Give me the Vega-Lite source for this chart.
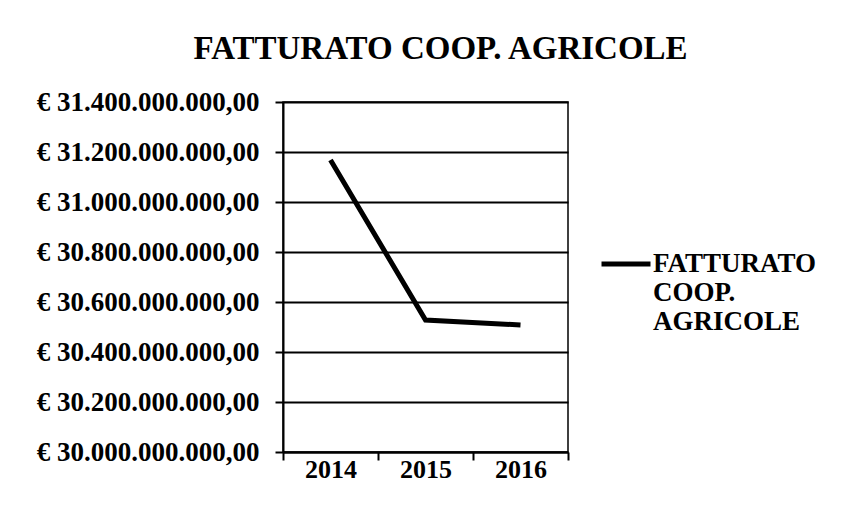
{
  "$schema": "https://vega.github.io/schema/vega-lite/v6.json",
  "width": 285,
  "height": 350,
  "autosize": "none",
  "padding": {"left": 283, "top": 102, "right": 278, "bottom": 57},
  "background": "white",
  "title": {
    "text": "FATTURATO COOP. AGRICOLE",
    "font": "Liberation Serif",
    "fontSize": 33,
    "fontWeight": "bold",
    "color": "black",
    "anchor": "middle",
    "dx": 15,
    "offset": 22
  },
  "data": {
    "values": [
      {"anno": "2014", "serie": "FATTURATO COOP. AGRICOLE", "fatturato": 31168000000},
      {"anno": "2015", "serie": "FATTURATO COOP. AGRICOLE", "fatturato": 30528000000},
      {"anno": "2016", "serie": "FATTURATO COOP. AGRICOLE", "fatturato": 30508000000}
    ]
  },
  "mark": {"type": "line", "strokeWidth": 5, "strokeCap": "butt", "strokeJoin": "miter"},
  "encoding": {
    "x": {
      "field": "anno",
      "type": "ordinal",
      "scale": {"type": "band", "paddingInner": 0, "paddingOuter": 0},
      "axis": {
        "title": null,
        "labelAngle": 0,
        "tickBand": "extent",
        "tickSize": 8,
        "labelPadding": -4,
        "grid": false
      }
    },
    "y": {
      "field": "fatturato",
      "type": "quantitative",
      "scale": {"domain": [30000000000, 31400000000], "zero": false, "nice": false},
      "axis": {
        "title": null,
        "values": [30000000000, 30200000000, 30400000000, 30600000000, 30800000000, 31000000000, 31200000000, 31400000000],
        "format": "$,.2f",
        "tickSize": 8,
        "labelPadding": 16,
        "labelFontSize": 27,
        "labelLimit": 400,
        "grid": true
      }
    },
    "color": {
      "field": "serie",
      "type": "nominal",
      "scale": {"range": ["black"]},
      "legend": {
        "title": null,
        "orient": "none",
        "legendX": 316,
        "legendY": 135,
        "symbolType": "stroke",
        "symbolSize": 2400,
        "symbolStrokeWidth": 5,
        "labelExpr": "split(datum.label, ' ')",
        "labelFont": "Liberation Serif",
        "labelFontSize": 27,
        "labelFontWeight": "bold",
        "labelColor": "black",
        "labelLimit": 400,
        "labelOffset": 0
      }
    }
  },
  "config": {
    "locale": {
      "number": {
        "decimal": ",",
        "thousands": ".",
        "grouping": [3],
        "currency": ["€ ", ""]
      }
    },
    "view": {"stroke": "black", "strokeWidth": 1.5},
    "axis": {
      "labelFont": "Liberation Serif",
      "labelFontSize": 26,
      "labelFontWeight": "bold",
      "labelColor": "black",
      "domainColor": "black",
      "domainWidth": 2,
      "tickColor": "black",
      "tickWidth": 2,
      "gridColor": "black",
      "gridWidth": 2,
      "gridOpacity": 1
    }
  }
}
